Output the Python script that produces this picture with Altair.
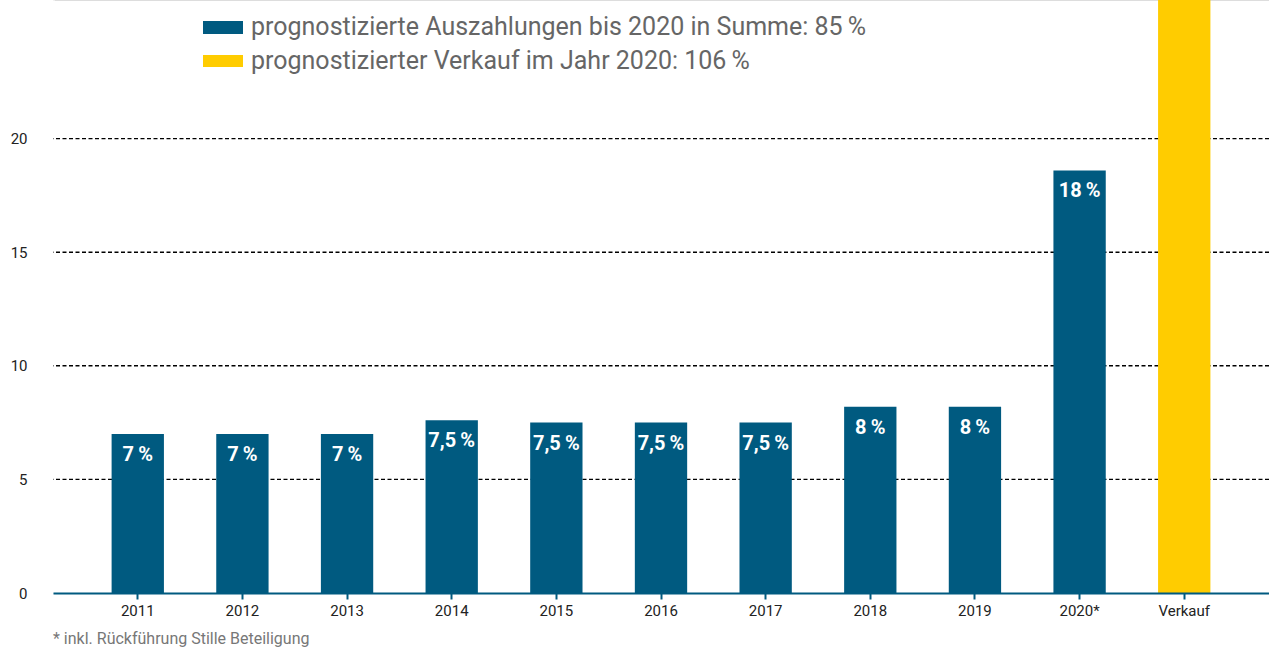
import altair as alt
import pandas as pd

years = ["2011", "2012", "2013", "2014", "2015", "2016", "2017", "2018", "2019", "2020*", "Verkauf"]
values = [7.0, 7.0, 7.0, 7.6, 7.5, 7.5, 7.5, 8.2, 8.2, 18.6, 106.0]
labels = ["7\u2009%", "7\u2009%", "7\u2009%", "7,5\u2009%", "7,5\u2009%", "7,5\u2009%", "7,5\u2009%",
          "8\u2009%", "8\u2009%", "18\u2009%", ""]
kinds = ["Auszahlung"] * 10 + ["Verkauf"]
y_ticks = [0, 5, 10, 15, 20]
grid_values = [5, 10, 15, 20]
legend_texts = ["prognostizierte  Auszahlungen bis 2020 in Summe: 85\u2009%",
                "prognostizierter Verkauf im Jahr 2020: 106\u2009%"]
footnote = "* inkl. Rückführung Stille Beteiligung"

BLUE = "#005A80"
YELLOW = "#FFCC00"
FONT = "Roboto"

df = pd.DataFrame({"year": years, "value": values, "label": labels, "kind": kinds})
lab_df = df[df["label"] != ""]
grid_df = pd.DataFrame({"value": grid_values})

yscale = alt.Scale(domain=[0, 26.1], nice=False, zero=True)
yaxis = alt.Axis(values=y_ticks, labelFontSize=15, labelColor="#222222", labelFont=FONT,
                 domain=True, domainColor="white", domainWidth=3,
                 ticks=False, labelPadding=26, grid=False, title=None)

x = alt.X("year:N", sort=years, title=None,
          scale=alt.Scale(paddingInner=0.5, paddingOuter=0.56),
          axis=alt.Axis(labelAngle=0, labelFontSize=15, labelColor="#222222", labelFont=FONT,
                        domain=True, domainColor=BLUE, domainWidth=2, tickColor=BLUE, tickWidth=2,
                        tickSize=6, labelPadding=4, zindex=2))

grid = alt.Chart(grid_df).mark_rule(color="#000000", strokeDash=[4, 2.5], strokeWidth=1.4).encode(
    y=alt.Y("value:Q", scale=yscale, axis=yaxis))

bars = alt.Chart(df).mark_bar(clip=True).encode(
    x=x, y=alt.Y("value:Q", scale=yscale, axis=yaxis),
    color=alt.Color("kind:N", scale=alt.Scale(domain=["Auszahlung", "Verkauf"], range=[BLUE, YELLOW]),
                    legend=None),
)

text = alt.Chart(lab_df).mark_text(color="white", fontSize=20, fontWeight="bold", font=FONT,
                                   baseline="top", dy=11).encode(
    x=alt.X("year:N", sort=years), y=alt.Y("value:Q", scale=yscale, axis=yaxis), text="label:N")

one = alt.Data(values=[{"a": 1}])
leg_rect1 = alt.Chart(one).mark_rect(color=BLUE).encode(
    x=alt.value(150), x2=alt.value(190), y=alt.value(21), y2=alt.value(34))
leg_rect2 = alt.Chart(one).mark_rect(color=YELLOW).encode(
    x=alt.value(150), x2=alt.value(190), y=alt.value(55), y2=alt.value(67))
leg_text1 = alt.Chart(one).mark_text(align="left", baseline="alphabetic", fontSize=25, font=FONT,
                                     color="#666666").encode(
    x=alt.value(198), y=alt.value(35), text=alt.value(legend_texts[0]))
leg_text2 = alt.Chart(one).mark_text(align="left", baseline="alphabetic", fontSize=25, font=FONT,
                                     color="#666666").encode(
    x=alt.value(198), y=alt.value(69), text=alt.value(legend_texts[1]))
foot = alt.Chart(one).mark_text(align="left", baseline="alphabetic", fontSize=16, font=FONT,
                                color="#777777").encode(
    x=alt.value(0), y=alt.value(644), text=alt.value(footnote))

chart = alt.layer(grid, bars, text, leg_rect1, leg_rect2, leg_text1, leg_text2, foot).properties(
    width=1216, height=593,
    autosize=alt.AutoSizeParams(type="none"),
    padding={"left": 53, "top": 0, "right": 0, "bottom": 55},
).configure_view(stroke=None).configure(background="white")

chart.save("out.html", embed_options={"renderer": "svg", "actions": False})
